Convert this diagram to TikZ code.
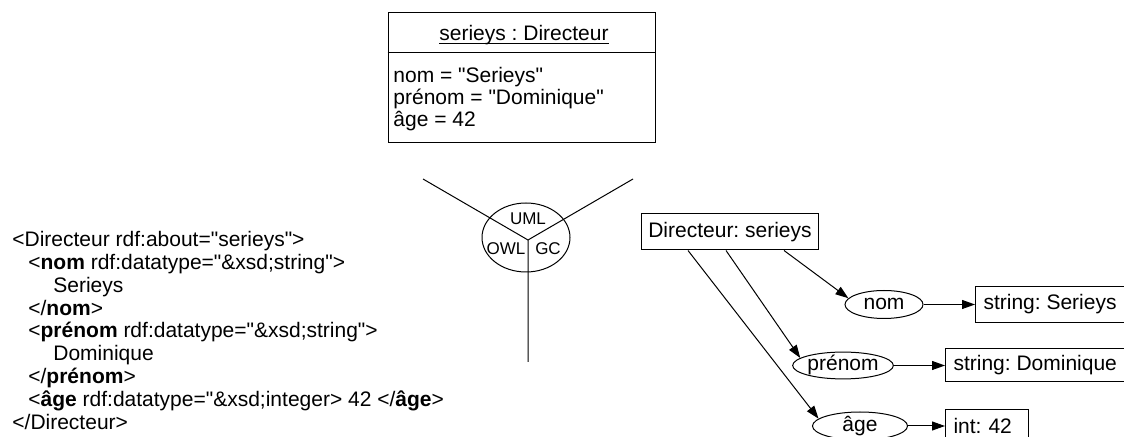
\documentclass[tikz,border=0pt]{standalone}
\usepackage{fontspec}
\setmainfont{Liberation Sans}[Ligatures=TeXOff]
\usetikzlibrary{shapes,arrows.meta,positioning,calc}
\frenchspacing

\begin{document}
\begin{tikzpicture}[
    x=0.5pt, y=-0.5pt,
    every node/.style={font=\fontsize{10.5}{11}\selectfont},
    box/.style={rectangle, draw, line width=0.5pt, minimum height=18pt, inner xsep=3.5pt},
    prop/.style={ellipse, draw, line width=0.5pt, inner sep=0pt, text height=7.5pt, text depth=2pt},
    tag/.style={inner sep=0pt, font=\fontsize{8.5}{9}\selectfont},
    link/.style={line width=0.5pt, -{Triangle[length=6.5pt,width=4.5pt]}},
    plain/.style={line width=0.5pt}
]
    \useasboundingbox (0,0) rectangle (1124,437);

    % ---- UML object ----
    \node[draw, line width=0.5pt, minimum width=133.5pt, minimum height=65pt, inner sep=0pt] (obj) at (521.5,78) {};
    \node[anchor=base, inner sep=0pt] (objtitle) at (524,41) {serieys : Directeur};
    \draw[plain] ([yshift=-1.2pt]objtitle.base west) -- ([yshift=-1.2pt]objtitle.base east);
    \draw[plain] (obj.west |- 0,53) -- (obj.east |- 0,53);
    \node[anchor=north west, align=left, inner sep=0pt, font=\fontsize{10.5}{9.75}\selectfont] (attrs) at (393,67)
        {nom = "Serieys"\\prénom = "Dominique"\\âge = 42};

    % ---- languages ----
    \coordinate (hub) at (528,240);
    \coordinate (armL) at (423,179);
    \coordinate (armR) at (633,179);
    \coordinate (armD) at (528,362);
    \node[ellipse, draw, line width=0.5pt, minimum width=44pt, minimum height=34.5pt, inner sep=0pt] (lang) at (526,237.5) {};
    \draw[plain] (armL) -- (hub) -- (armR) (hub) -- (armD);
    \node[tag] (uml) at (528,219) {UML};
    \node[tag] (owl) at (506,249) {OWL};
    \node[tag] (gc) at (548,249) {GC};

    % ---- RDF/XML ----
    \node[anchor=north west, align=left, inner sep=0pt, font=\fontsize{10.5}{11.4}\selectfont] (xml) at (12,231)
        {<Directeur rdf:about="serieys">\\
         \hspace*{8pt}<\textbf{nom} rdf:datatype="\&xsd;string">\\
         \hspace*{20.5pt}Serieys\\
         \hspace*{8pt}</\textbf{nom}>\\
         \hspace*{8pt}<\textbf{prénom} rdf:datatype="\&xsd;string">\\
         \hspace*{20.5pt}Dominique\\
         \hspace*{8pt}</\textbf{prénom}>\\
         \hspace*{8pt}<\textbf{âge} rdf:datatype="\&xsd;integer> 42 </\textbf{âge}>\\
         </Directeur>};

    % ---- conceptual graph ----
    \node[box] (dir) at (730,232) {Directeur: serieys};
    \node[prop, minimum width=39pt, minimum height=14pt] (nom) at (884,304.5) {nom};
    \node[prop, minimum width=48pt, minimum height=13pt] (prenom) at (843,365.5) {prénom};
    \node[prop, minimum width=47.5pt, minimum height=14pt] (age) at (860,426) {âge};
    \node[box, anchor=west, inner xsep=4pt] (sNom) at (975,304.5) {string: Serieys};
    \node[box, anchor=west, inner xsep=4pt, minimum height=16.5pt] (sPrenom) at (945,365.5) {string: Dominique};
    \node[box, anchor=west, inner xsep=4pt, text width=33.5pt, minimum height=16.5pt] (iAge) at (945,426) {int: 42};

    \draw[link] ([xshift=27pt]dir.south) -- (nom.170);
    \draw[link] ([xshift=-2pt]dir.south) -- (prenom.170);
    \draw[link] ([xshift=-21pt]dir.south) -- (age.170);
    \draw[link] (nom) -- (sNom);
    \draw[link] (prenom) -- (sPrenom);
    \draw[link] (age) -- (iAge);
\end{tikzpicture}
\end{document}
